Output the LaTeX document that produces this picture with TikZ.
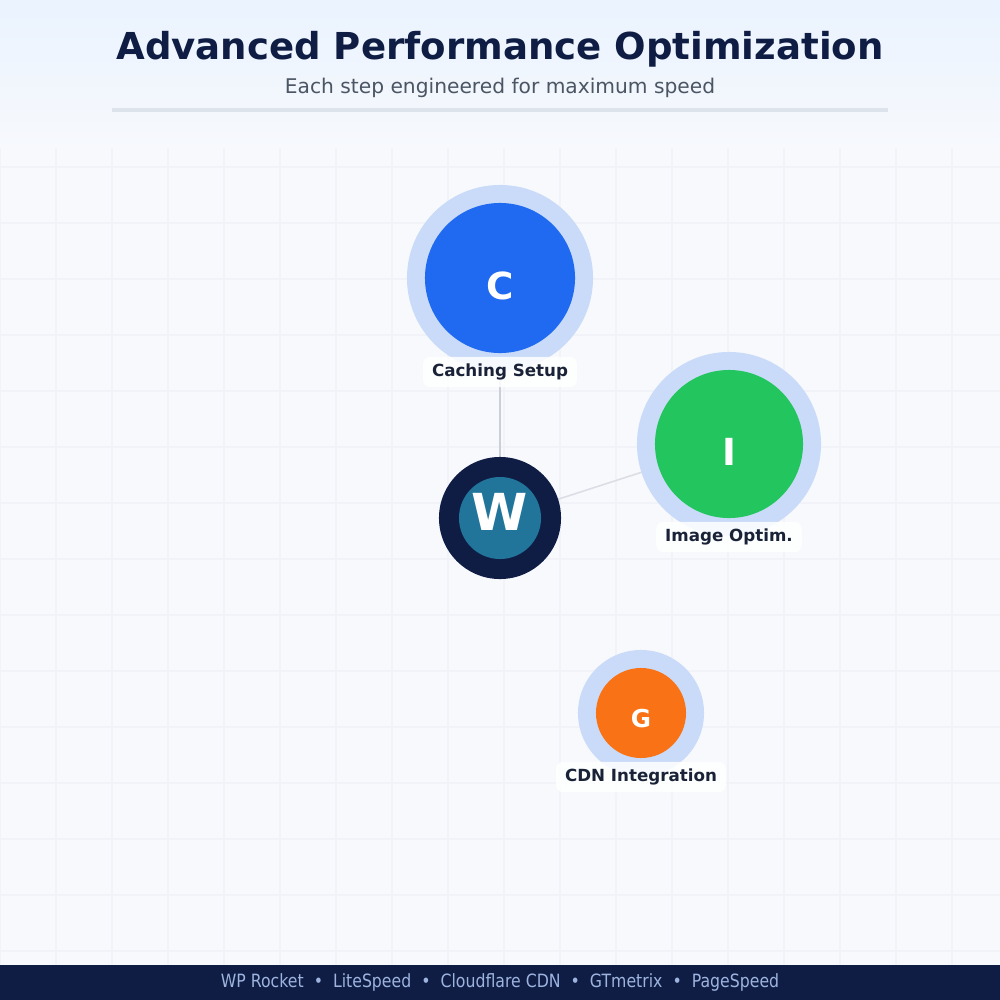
\documentclass[tikz,border=0pt]{standalone}
\usepackage{fontspec}
\setmainfont{DejaVu Sans}
\usetikzlibrary{calc}
\definecolor{navy}{HTML}{0F1D45}
\definecolor{halo}{HTML}{C9DBF8}
\definecolor{cblue}{HTML}{1F6AF0}
\definecolor{cgreen}{HTML}{22C55E}
\definecolor{corange}{HTML}{F97316}
\definecolor{wpblue}{HTML}{21759B}
\definecolor{labeltxt}{HTML}{1A2238}
\definecolor{subgray}{HTML}{4B5563}
\definecolor{footertxt}{HTML}{9DB4DE}
\definecolor{bgtop}{HTML}{EAF3FE}
\definecolor{bgmain}{HTML}{F7F9FD}
\definecolor{gridc}{HTML}{F1F3F8}
\definecolor{rulec}{HTML}{DDE3EA}
\definecolor{edgec}{HTML}{CBD0D8}
\tikzset{
  halocirc/.style={circle, fill=halo, inner sep=0pt},
  stepcirc/.style={circle, inner sep=0pt},
  letter/.style={text=white, inner sep=0pt},
  steplabel/.style={fill=white, fill opacity=0.85, text opacity=1, text=labeltxt, rounded corners=2pt, inner xsep=9pt*0.2845, inner ysep=7pt*0.2845, font=\fontsize{4.75}{6}\selectfont\bfseries},
  edge/.style={draw=edgec, line width=0.45pt},
}
\begin{document}
\begin{tikzpicture}[x=0.01cm, y=-0.01cm]
\useasboundingbox (0,0) rectangle (1000,1000);
% background
\fill[bgmain] (0,0) rectangle (1000,1000);
\shade[top color=bgtop, bottom color=bgmain] (0,0) rectangle (1000,150);
% grid
\begin{scope}
\clip (0,148) rectangle (1000,965);
\foreach \gx in {0,56,...,1000} \draw[gridc, line width=0.5pt] (\gx,148) -- (\gx,965);
\foreach \gy in {167,223,...,965} \draw[gridc, line width=0.5pt] (0,\gy) -- (1000,\gy);
\end{scope}
% header
\node[text=navy, font=\fontsize{10.55}{13}\selectfont\bfseries] (title) at (500,49) {Advanced Performance Optimization};
\node[text=subgray, font=\fontsize{5.75}{7}\selectfont] (subtitle) at (500,88) {Each step engineered for maximum speed};
\coordinate (ruleL) at (112,110);
\coordinate (ruleR) at (888,110);
\draw[rulec, line width=1.0pt] (ruleL) -- (ruleR);
% node centres
\coordinate (wc) at (500,518);
\coordinate (cc) at (500,278);
\coordinate (ic) at (729,444);
\coordinate (gc) at (641,713);
% connectors
\draw[edge] (wc) -- (cc);
\draw[edge, draw=edgec!70] (wc) -- (ic);
% halos
\node[halocirc, minimum size=186*0.2845pt] (chalo) at (cc) {};
\node[halocirc, minimum size=184*0.2845pt] (ihalo) at (ic) {};
\node[halocirc, minimum size=126*0.2845pt] (ghalo) at (gc) {};
% step circles
\node[stepcirc, fill=cblue, minimum size=150*0.2845pt] (C) at (cc) {};
\node[stepcirc, fill=cgreen, minimum size=148*0.2845pt] (I) at (ic) {};
\node[stepcirc, fill=corange, minimum size=90*0.2845pt] (G) at (gc) {};
\node[letter, font=\fontsize{10.6}{12}\selectfont\bfseries] (Ct) at ($(cc)+(0,8)$) {C};
\node[letter, font=\fontsize{10.6}{12}\selectfont\bfseries] (It) at ($(ic)+(0,8)$) {I};
\node[letter, font=\fontsize{7}{8}\selectfont\bfseries] (Gt) at ($(gc)+(0,6)$) {G};
% hub
\node[circle, fill=navy, minimum size=122*0.2845pt, inner sep=0pt] (W) at (wc) {};
\node[stepcirc, fill=wpblue, minimum size=82*0.2845pt] (Win) at (wc) {};
\node[letter, font=\fontsize{14.5}{16}\selectfont\bfseries] (Wt) at ($(wc)+(0,-6)$) {W};
% labels
\node[steplabel] (Clab) at (500,372) {Caching Setup};
\node[steplabel] (Ilab) at (729,537) {Image Optim.};
\node[steplabel] (Glab) at (641,777) {CDN Integration};
% footer
\fill[navy] (0,965) rectangle (1000,1000);
\node[text=footertxt, font=\fontsize{5.2}{6}\selectfont] (footer) at (500,982) {\scalebox{0.86}[1]{WP Rocket \ \textbullet\ \ LiteSpeed \ \textbullet\ \ Cloudflare CDN \ \textbullet\ \ GTmetrix \ \textbullet\ \ PageSpeed}};
\end{tikzpicture}
\end{document}
